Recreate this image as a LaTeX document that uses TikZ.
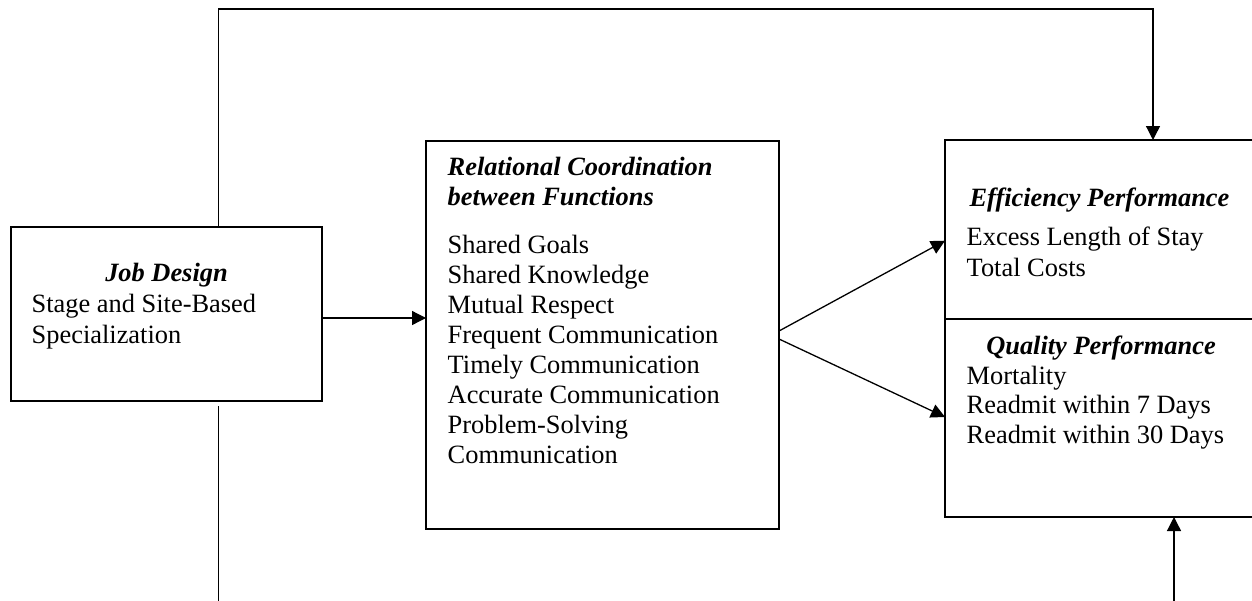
\documentclass[tikz,border=0pt]{standalone}
\usepackage{fontspec}
\setmainfont{Liberation Serif}
\usetikzlibrary{arrows.meta}

\begin{document}
\begin{tikzpicture}[x=1pt,y=-1pt,
  every node/.style={inner sep=0pt,outer sep=0pt},
  box/.style={draw,line width=1.8pt,rectangle,minimum width=#1},
  txt/.style={font=\fontsize{26.4}{30}\selectfont,anchor=base west},
  head/.style={font=\fontsize{26.4}{30}\selectfont\bfseries\itshape,anchor=base},
  headl/.style={font=\fontsize{26.4}{30}\selectfont\bfseries\itshape,anchor=base west},
  link/.style={line width=1.3pt},
  arr/.style={link,-{Triangle[length=14pt,width=14pt]}}]

\clip (0,0) rectangle (1252,600);

% boxes
\node[box=311pt,minimum height=174pt] (job) at (166.5,314) {};
\node[box=353pt,minimum height=388pt] (mid) at (602.5,335) {};
\node[box=311pt,minimum height=377pt] (res) at (1100.5,328.5) {};
\coordinate (div) at (0,319);
\draw[line width=1.8pt] (res.west |- div) -- (res.east |- div);

% job design
\node[head] (jobh) at (166.5,281) {Job Design};
\node[txt] (job1) at (31.7,312) {Stage and Site-Based};
\node[txt] (job2) at (31.7,343) {Specialization};

% relational coordination
\node[headl] (midh1) at (447.7,175) {Relational Coordination};
\node[headl] (midh2) at (447.7,205) {between Functions};
\foreach \t [count=\i] in {Shared Goals,Shared Knowledge,Mutual Respect,
  Frequent Communication,Timely Communication,Accurate Communication,
  Problem-Solving,Communication}
  \node[txt] (mid\i) at (447.7,{253+30*(\i-1)}) {\t};

% outcomes
\node[head] (effh) at (1099.5,206.7) {Efficiency Performance};
\node[txt] (eff1) at (966.7,245) {Excess Length of Stay};
\node[txt] (eff2) at (966.7,276.5) {Total Costs};
\node[head] (qualh) at (1101,354) {Quality Performance};
\node[txt] (qual1) at (966.7,384) {Mortality};
\node[txt] (qual2) at (966.7,413.5) {Readmit within 7 Days};
\node[txt] (qual3) at (966.7,443) {Readmit within 30 Days};

% connectors
\coordinate (jm) at (0,318);
\draw[arr] (job.east |- jm) -- (mid.west |- jm);

\coordinate (s1) at (0,331);
\coordinate (t1) at (0,240.7);
\coordinate (s2) at (0,339);
\coordinate (t2) at (0,417);
\draw[arr] (mid.east |- s1) -- (res.west |- t1);
\draw[arr] (mid.east |- s2) -- (res.west |- t2);

\coordinate (loopL) at (218.7,9);
\coordinate (loopR) at (1153,9);
\draw[arr] (job.north -| loopL) -- (loopL) -- (loopR) -- (res.north -| loopR);

\coordinate (botL) at (218.7,610);
\draw[link] ([yshift=-5pt]job.south -| botL) -- (botL);

\coordinate (botR) at (1174,610);
\draw[arr] (botR) -- (res.south -| botR);
\end{tikzpicture}
\end{document}
